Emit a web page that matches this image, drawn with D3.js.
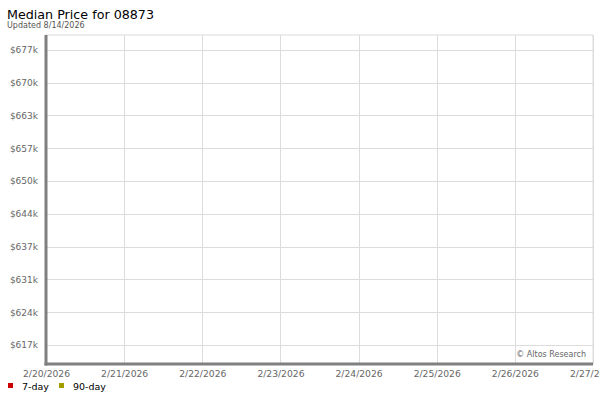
<!DOCTYPE html>
<html>
<head>
<meta charset="utf-8">
<script src="https://cdn.jsdelivr.net/npm/d3@7"></script>
<style>
  body { margin: 0; background: #fff; }
  svg { font-family: "DejaVu Sans", sans-serif; }
</style>
</head>
<body>
<svg id="chart" width="600" height="400"></svg>
<script>
let margin = { left: 46, top: 35, right: 7, bottom: 36 }
let width = 600
let height = 400

// dates on the x axis
let dates = ["2/20/2026", "2/21/2026", "2/22/2026", "2/23/2026", "2/24/2026", "2/25/2026", "2/26/2026", "2/27/2026"];
// y tick values in $k, labels rounded
let yTicks = [617.4, 623.98, 630.56, 637.14, 643.72, 650.3, 656.88, 663.46, 670.04, 676.62];
let yDomain = [613.6, 679.6];
// legend series (no data points in the window)
let seriesNames = ["7-day", "90-day"];
let seriesColors = ["#cc0000", "#a39e00"];
let sevenDay = [];
let ninetyDay = [];

let svg = d3.select("#chart");
let bodyWidth = width - margin.left - margin.right;
let bodyHeight = height - margin.top - margin.bottom;

let parse = d3.timeParse("%m/%d/%Y");
let xScale = d3.scaleTime()
    .range([0, bodyWidth])
    .domain([parse(dates[0]), parse(dates[dates.length - 1])]);

let yScale = d3.scaleLinear()
    .range([bodyHeight, 0])
    .domain(yDomain);

// title
svg.append("text").attr("x", 7).attr("y", 19)
    .attr("font-size", 12.7).attr("fill", "#000")
    .text("Median Price for 08873");
svg.append("text").attr("x", 7).attr("y", 28)
    .attr("font-size", 8).attr("fill", "#555")
    .text("Updated 8/14/2026");

let body = svg.append("g").attr("transform", `translate(${margin.left},${margin.top})`);

// frame
body.append("rect").attr("width", bodyWidth).attr("height", bodyHeight)
    .attr("fill", "#fff").attr("stroke", "#dcdcdc").attr("stroke-width", 1);

// grid
body.append("g")
    .selectAll("line.h").data(yTicks).join("line")
    .attr("x1", 0).attr("x2", bodyWidth)
    .attr("y1", d => Math.round(yScale(d)) + 0.5).attr("y2", d => Math.round(yScale(d)) + 0.5)
    .attr("stroke", "#dcdcdc");
body.append("g")
    .selectAll("line.v").data(dates).join("line")
    .attr("y1", 0).attr("y2", bodyHeight)
    .attr("x1", d => Math.round(xScale(parse(d))) + 0.5).attr("x2", d => Math.round(xScale(parse(d))) + 0.5)
    .attr("stroke", "#dcdcdc");

// series lines (empty)
let line = d3.line().x(d => xScale(parse(d.date))).y(d => yScale(d.value));
[sevenDay, ninetyDay].forEach((s, i) => {
    body.append("path").datum(s).attr("d", line)
        .attr("fill", "none").attr("stroke", seriesColors[i]).attr("stroke-width", 2);
});

// axes
let yAxis = body.append("g")
    .call(d3.axisLeft(yScale).tickValues(yTicks).tickSize(0).tickPadding(8)
        .tickFormat(d => "$" + Math.round(d) + "k"));
yAxis.select(".domain").remove();
yAxis.selectAll("text").attr("font-size", 9).attr("fill", "#666").attr("font-family", "DejaVu Sans");

let xAxis = body.append("g")
    .attr("transform", `translate(0,${bodyHeight})`)
    .call(d3.axisBottom(xScale).tickValues(dates.map(parse)).tickSize(0).tickPadding(6)
        .tickFormat(d3.timeFormat("%-m/%-d/%Y")));
xAxis.select(".domain").remove();
xAxis.selectAll("text").attr("font-size", 9.2).attr("fill", "#666").attr("font-family", "DejaVu Sans");

// thick axis lines
body.append("line").attr("x1", 0).attr("x2", 0).attr("y1", 0).attr("y2", bodyHeight + 1.5)
    .attr("stroke", "#808080").attr("stroke-width", 3);
body.append("line").attr("x1", -1.5).attr("x2", bodyWidth).attr("y1", bodyHeight).attr("y2", bodyHeight)
    .attr("stroke", "#808080").attr("stroke-width", 3);

// watermark
body.append("text").attr("x", bodyWidth - 7).attr("y", bodyHeight - 7)
    .attr("text-anchor", "end").attr("font-size", 8).attr("fill", "#666")
    .text("\u00a9 Altos Research");

// legend
let legend = svg.append("g").attr("transform", "translate(8,383)");
let legendX = [0, 51];
seriesNames.forEach((n, i) => {
    legend.append("rect").attr("x", legendX[i]).attr("y", 0).attr("width", 5).attr("height", 5)
        .attr("fill", seriesColors[i]);
    legend.append("text").attr("x", legendX[i] + 14).attr("y", 7)
        .attr("font-size", 9.5).attr("fill", "#000").text(n);
});
</script>
</body>
</html>
